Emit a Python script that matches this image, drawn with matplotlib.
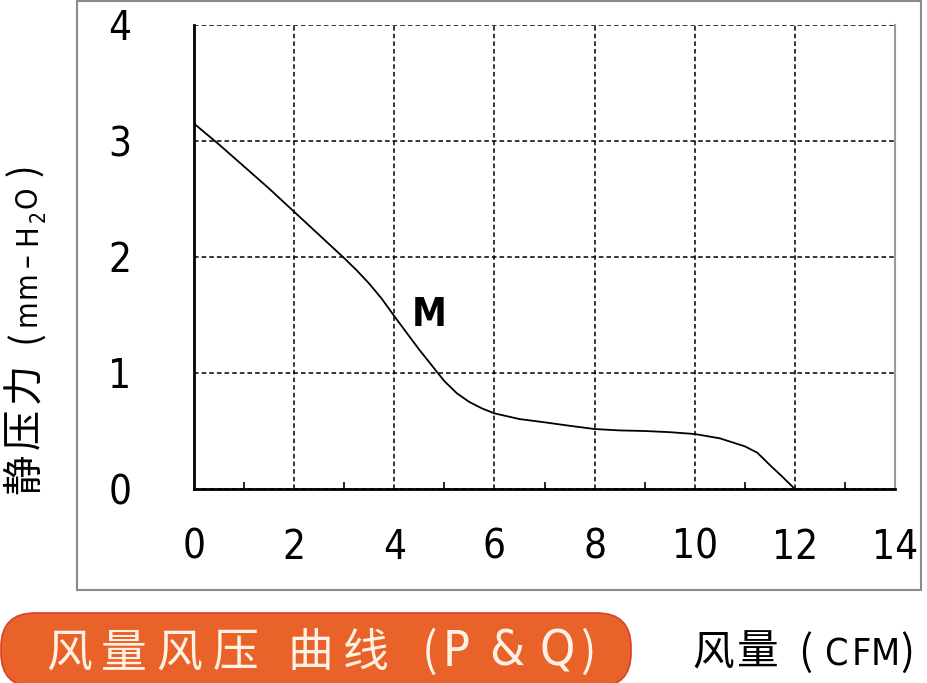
import matplotlib
matplotlib.use("Agg")
import matplotlib.pyplot as plt
from matplotlib import font_manager
from matplotlib.font_manager import FontProperties
from matplotlib.patches import FancyBboxPatch, Rectangle
from matplotlib.transforms import IdentityTransform

# ---- data ----
flow_cfm = [0, 0.5, 1, 1.5, 2, 2.5, 3, 3.25, 3.5, 3.75, 4, 4.25, 4.5, 4.75,
            5, 5.25, 5.5, 5.75, 6, 6.5, 7, 7.5, 8, 8.5, 9, 9.5, 10, 10.5,
            11, 11.25, 11.5, 11.75, 12]
pressure = [3.15, 2.97, 2.78, 2.59, 2.39, 2.19, 1.99, 1.885, 1.77, 1.64,
            1.49, 1.345, 1.20, 1.065, 0.93, 0.825, 0.75, 0.695, 0.652, 0.603,
            0.575, 0.545, 0.517, 0.505, 0.50, 0.49, 0.474, 0.437, 0.368,
            0.313, 0.207, 0.106, 0.0]
x_ticks = [0, 2, 4, 6, 8, 10, 12, 14]
x_tick_labels = ["0", "2", "4", "6", "8", "10", "12", "14"]
x_minor = [1, 3, 5, 7, 9, 11, 13]
y_ticks = [0, 1, 2, 3, 4]
y_tick_labels = ["0", "1", "2", "3", "4"]
curve_label = "M"
# titles, written character by character (the source uses wide letter spacing)
y_title_chars = ["静", "压", "力", "(", "m", "m", "–", "H", "2", "O", ")"]
x_title_chars = ["风", "量", "(", "C", "F", "M", ")"]
banner_chars = ["风", "量", "风", "压", "曲", "线", "(", "P", "&", "Q", ")"]

# ---- layout (pixel positions of glyph centres) ----
W, H = 927, 683
y_title_pos = [474, 429, 383, 337, 313, 285, 260, 235, 216, 197, 170]
x_title_pos = [713, 758, 805, 836, 861, 885, 907]
banner_pos = [69, 124, 179, 235, 310, 366, 430, 456, 507, 557, 588]

# ---- fonts: look for a narrow latin face, like the source's ----
ttf = font_manager.fontManager.ttflist


def find_narrow(bold=False):
    best = None
    for f in ttf:
        fn = f.fname.lower()
        if not ("narrow" in fn or "condensed" in fn):
            continue
        if "mono" in fn or "serif" in fn and "sans" not in fn:
            continue
        if f.style != "normal":
            continue
        w = f.weight if isinstance(f.weight, int) else (700 if f.weight == "bold" else 400)
        if bold != (w >= 600):
            continue
        score = 0 if "liberation" in fn else (1 if "dejavu" in fn else 2)
        if best is None or score < best[0]:
            best = (score, f.fname)
    return best[1] if best else None


nar_reg = find_narrow(False)
nar_bold = find_narrow(True)
if nar_reg:
    num_fp = FontProperties(fname=nar_reg)
else:
    num_fp = FontProperties(family="Liberation Sans")
if nar_bold:
    m_fp = FontProperties(fname=nar_bold)
else:
    m_fp = FontProperties(family="Liberation Sans", weight="bold")
HAVE_NARROW = nar_reg is not None
CJK = ["Noto Sans CJK SC", "DejaVu Sans"]


def is_wide(c):
    return ord(c) > 0x2E80


def char_fp(c, size):
    if is_wide(c) or c in "()" or not HAVE_NARROW:
        fp = FontProperties(family=CJK)
    else:
        fp = num_fp.copy()
    fp.set_size(size)
    return fp


fig = plt.figure(figsize=(W / 100, H / 100), dpi=100)
fig.patch.set_facecolor("white")

# outer frame
frame = Rectangle((77, H - 590), 921 - 77, 589, transform=IdentityTransform(),
                  fill=False, edgecolor="#8a8a8a", linewidth=1.5)
fig.add_artist(frame)

ax = fig.add_axes([194 / W, (H - 489) / H, 701 / W, (489 - 25) / H])
ax.plot(flow_cfm, pressure, color="black", linewidth=1.3, zorder=3)
ax.set_xlim(0, 14)
ax.set_ylim(0, 4)
tick_fp = num_fp.copy()
tick_fp.set_size(29 if HAVE_NARROW else 27)
ax.set_xticks(x_ticks)
ax.set_xticklabels(x_tick_labels, fontproperties=tick_fp)
ax.set_yticks(y_ticks)
ax.set_yticklabels(y_tick_labels, fontproperties=tick_fp)
ax.set_xticks(x_minor, minor=True)
ax.tick_params(axis="both", which="major", length=0, pad=0)
ax.tick_params(axis="x", which="major", pad=28)
ax.tick_params(axis="y", which="major", pad=45)
ax.tick_params(axis="x", which="minor", direction="in", length=5, width=1.2, color="black")
ax.grid(True, which="major", color="black", linestyle=(0, (3, 2)), linewidth=1.1)
ax.set_axisbelow(True)
for s in ["left", "bottom"]:
    ax.spines[s].set_linewidth(2)
    ax.spines[s].set_color("black")
    ax.spines[s].set_zorder(4)
ax.spines["top"].set_visible(False)
ax.spines["right"].set_color("#9a9a9a")
ax.spines["right"].set_linewidth(1.5)
ax.spines["right"].set_zorder(4)

mfp = m_fp.copy()
mfp.set_size(28 if nar_bold else 25)
ax.text(4.7, 1.5, curve_label, fontproperties=mfp, ha="center", va="center")

# y title (vertical, reading bottom to top)
for c, p in zip(y_title_chars, y_title_pos):
    if c == "2":
        fig.text(45 / W, 1 - p / H, c, rotation=90, rotation_mode="anchor",
                 fontproperties=char_fp(c, 15), ha="center", va="baseline")
    else:
        size = 29 if is_wide(c) else (27 if c in "()" else (22 if HAVE_NARROW else 21))
        fig.text(36 / W, 1 - p / H, c, rotation=90, rotation_mode="anchor",
                 fontproperties=char_fp(c, size), ha="center", va="baseline")

# banner
banner = FancyBboxPatch((1, -4), 630, 74, boxstyle="round,pad=0,rounding_size=34",
                        transform=IdentityTransform(), facecolor="#E8622A",
                        edgecolor="#D8402A", linewidth=1.2)
fig.add_artist(banner)
for c, p in zip(banner_chars, banner_pos):
    size = 33 if (is_wide(c) or c in "()") else (36 if HAVE_NARROW else 33)
    fig.text(p / W, 1 - 666 / H, c, fontproperties=char_fp(c, size),
             color="#FFF2E4", ha="center", va="baseline")

# x title
for c, p in zip(x_title_chars, x_title_pos):
    size = 30 if (is_wide(c) or c in "()") else (27 if HAVE_NARROW else 25)
    fig.text(p / W, 1 - 665 / H, c, fontproperties=char_fp(c, size),
             color="black", ha="center", va="baseline")

fig.savefig("out.png", dpi=100)
